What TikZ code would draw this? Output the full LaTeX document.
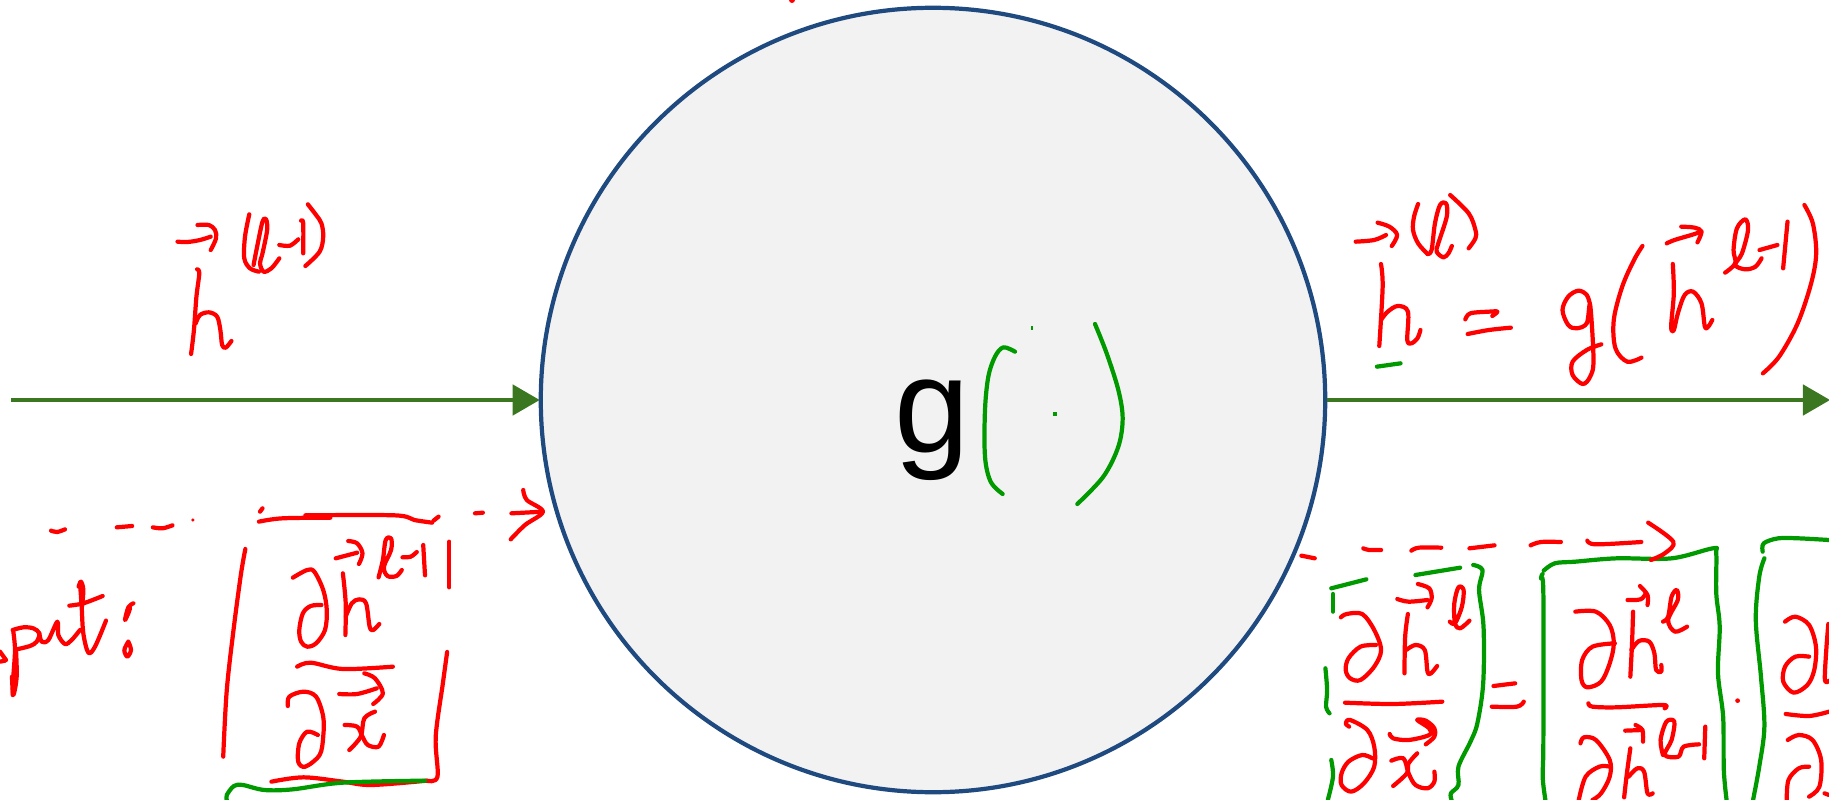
\documentclass[tikz,border=0pt]{standalone}
\usepackage{fontspec}
\setmainfont{Liberation Sans}
\usetikzlibrary{arrows.meta}
\definecolor{gatefill}{HTML}{F2F2F2}
\definecolor{gateline}{HTML}{1F4A7F}
\definecolor{flowgreen}{HTML}{3B7720}
\definecolor{inkgreen}{HTML}{009900}
\tikzset{
	inkline/.style={smooth,tension=0.55},
	redink/.style={red,line width=1.2pt,line cap=round,line join=round},
	greenink/.style={inkgreen,line width=1.2pt,line cap=round,line join=round},
	flowarrow/.style={flowgreen,line width=1.15pt,-{Triangle[length=7.7pt,width=8.6pt]},shorten >=-0.3pt}
}
\newcommand{\redstroke}[1]{\draw[redink] plot[inkline] coordinates {#1};}
\newcommand{\greenstroke}[1]{\draw[greenink] plot[inkline] coordinates {#1};}
\begin{document}
\begin{tikzpicture}[x=0.01cm,y=-0.01cm]
	\useasboundingbox[clip] (0,0) rectangle (1829,800);

	\node[circle,draw=gateline,fill=gatefill,line width=1.2pt,inner sep=0pt,minimum size=7.84cm] (gate) at (933,400) {};
	\node[anchor=base,inner sep=0pt,font=\fontsize{38.5}{40}\selectfont] (glabel) at (932,452) {g};

	\coordinate (inStart) at (11,400);
	\coordinate (outEnd) at (1829,400);
	\draw[flowarrow] (inStart) -- (gate);
	\draw[flowarrow] (gate) -- (outEnd);

	\fill[red] (792,0) circle (3);

	% Input label and the backward dashes (left)
	\begin{scope}[shift={(0,180)},xscale=0.35714,yscale=0.33333]
		\redstroke{(497,185)(525,186)(560,180)(590,170)}
		\redstroke{(553,135)(585,135)(602,150)(605,175)(590,210)}
		\redstroke{(552,268)(558,280)(550,350)(543,450)(535,522)}
		\redstroke{(548,430)(560,405)(585,397)(608,410)(617,450)(622,495)(632,503)(648,483)}
		\redstroke{(698,103)(686,170)(684,235)(700,265)(725,275)}
		\redstroke{(710,255)(720,200)(735,125)(745,118)(748,150)(735,220)(728,250)(738,275)(760,265)(782,235)}
		\redstroke{(782,195)(812,197)(835,178)}
		\redstroke{(843,122)(849,130)(849,220)}
		\redstroke{(862,73)(885,105)(900,130)(905,170)(895,215)(855,258)}
	\end{scope}

	% put:
	\begin{scope}[shift={(0,570)},scale=0.33333]
		\redstroke{(0,275)(15,272)}
		\redstroke{(0,245)(18,270)}
		\redstroke{(38,180)(70,172)(100,175)(118,190)(110,215)(90,228)(50,238)}
		\redstroke{(40,185)(45,240)(40,320)(38,375)}
		\redstroke{(36,320)(40,375)(50,320)(48,240)}
		\redstroke{(118,190)(125,215)(145,210)(172,155)(175,195)(195,222)(215,210)(240,180)}
		\redstroke{(240,38)(245,110)(250,190)(265,248)(285,230)(318,152)}
		\redstroke{(236,50)(243,35)(250,60)(246,110)}
		\redstroke{(208,107)(250,100)(308,78)}
		\redstroke{(400,100)(385,112)(375,150)(385,130)(390,115)}
		\redstroke{(385,215)(373,240)(382,260)(393,240)(385,215)}
	\end{scope}

	\begin{scope}[shift={(0,470)},xscale=0.35714,yscale=0.33333]
		\redstroke{(143,182)(160,186)(182,178)}
		\redstroke{(327,172)(370,168)}
		\redstroke{(428,172)(455,175)(483,166)}
		\fill[red] (540,150) circle (5);
		\redstroke{(735,115)(728,125)}
		\redstroke{(725,155)(790,145)(925,143)}
		\redstroke{(855,136)(1105,136)(1160,150)(1210,158)}
		\redstroke{(1228,140)(1214,152)}
		\redstroke{(1330,130)(1352,128)}
		\redstroke{(1432,130)(1520,125)}
		\redstroke{(1465,60)(1475,90)(1520,125)(1470,165)(1430,208)}
		% bracket
		\redstroke{(687,237)(675,310)(655,470)(635,660)(625,860)}
		\redstroke{(1258,215)(1258,352)}
		\redstroke{(1252,546)(1240,640)(1220,800)(1225,920)(1195,932)}
		\redstroke{(760,935)(850,922)(960,935)(1040,945)(1195,932)}
		% fraction
		\redstroke{(820,323)(860,300)(880,305)(905,360)(915,420)(910,480)(885,520)(860,530)(843,515)(838,480)(848,430)(870,408)(900,405)}
		\redstroke{(960,310)(968,400)(967,495)}
		\redstroke{(968,440)(985,400)(1005,388)(1025,400)(1035,470)(1045,480)(1062,462)}
		\redstroke{(940,265)(1000,248)}
		\redstroke{(975,213)(1000,220)(1015,250)(1005,282)}
		\redstroke{(1060,322)(1072,270)(1080,210)(1095,205)(1095,240)(1075,290)(1085,318)(1110,318)(1125,300)}
		\redstroke{(1127,262)(1150,260)(1167,246)}
		\redstroke{(1185,225)(1190,316)}
		\redstroke{(832,590)(870,578)(960,597)(1100,590)}
		\redstroke{(806,708)(810,680)(850,665)(885,680)(905,740)(905,800)(895,855)(855,890)(835,875)(838,820)(860,785)(890,795)}
		\redstroke{(950,672)(1000,672)(1055,655)}
		\redstroke{(1020,610)(1050,625)(1072,670)(1045,702)}
		\redstroke{(965,765)(1000,770)(1015,800)(1030,825)(1060,830)(1075,795)}
		\redstroke{(1050,725)(1020,745)(1010,800)(978,840)}
		\greenstroke{(635,990)(635,975)(655,948)(680,945)(740,960)(820,958)(960,938)(1190,932)}
	\end{scope}

	% Green brackets inside the gate
	\begin{scope}[shift={(860,300)},scale=0.33333]
		\greenstroke{(465,155)(430,142)(405,170)(385,230)(375,330)(375,470)(392,545)(428,582)}
		\greenstroke{(705,72)(740,160)(775,270)(788,355)(775,440)(730,530)(652,612)}
		\fill[inkgreen] (513,78) rectangle (519,90);
		\fill[inkgreen] (579,336) rectangle (591,348);
	\end{scope}

	% Output equation (right)
	\begin{scope}[shift={(1300,180)},xscale=0.33738,yscale=0.33333]
		\redstroke{(165,185)(220,180)(255,165)}
		\redstroke{(230,128)(265,140)(288,165)(272,198)}
		\redstroke{(350,72)(338,110)(335,150)(350,190)(378,222)}
		\redstroke{(378,222)(390,210)(400,130)(415,75)(433,70)(435,110)(410,190)(405,215)(425,232)(440,220)(450,198)}
		\redstroke{(445,45)(500,100)(520,150)(520,175)(500,205)}
		\redstroke{(240,252)(245,320)(235,498)}
		\redstroke{(240,420)(260,395)(290,378)(320,395)(318,480)(330,490)(348,475)(357,450)}
		\greenstroke{(228,560)(298,550)}
		\redstroke{(490,418)(505,400)(560,395)(585,395)(570,408)}
		\redstroke{(497,462)(560,450)(625,443)}
		\redstroke{(860,375)(850,345)(825,332)(795,350)(778,390)(795,435)(820,445)(850,430)(860,375)(870,540)(860,590)(838,612)(808,585)(808,545)(850,510)(893,493)}
		\redstroke{(1015,198)(990,240)(955,320)(930,420)(935,505)(970,545)(1012,533)}
		\redstroke{(1105,252)(1108,340)(1100,440)(1108,450)(1120,400)(1140,345)(1165,335)(1190,370)(1200,440)(1210,440)(1222,420)}
		\redstroke{(1087,190)(1110,180)(1160,165)(1190,155)}
		\redstroke{(1130,140)(1170,143)(1190,155)(1178,187)}
		\redstroke{(1260,278)(1290,250)(1285,210)(1295,145)(1320,118)(1328,150)(1310,220)(1290,255)(1320,268)(1350,260)(1368,235)}
		\redstroke{(1362,210)(1415,195)}
		\redstroke{(1445,125)(1432,265)}
		\redstroke{(1495,75)(1520,130)(1530,220)(1515,310)(1475,430)(1420,530)(1372,580)}
	\end{scope}

	% Chain rule (bottom right)
	\begin{scope}[shift={(1290,510)},xscale=0.34376,yscale=0.33333]
		\redstroke{(33,137)(72,145)}
		\redstroke{(213,115)(230,120)(265,120)}
		\redstroke{(353,122)(375,113)(440,113)}
		\redstroke{(522,115)(595,106)}
		\redstroke{(700,106)(730,96)(788,96)}
		\redstroke{(865,92)(890,103)(1022,96)}
		\greenstroke{(120,235)(222,208)}
		\greenstroke{(125,252)(125,305)}
		\greenstroke{(103,475)(108,540)(105,590)(115,610)}
		\greenstroke{(120,750)(125,800)(110,870)}
		\greenstroke{(365,195)(495,173)}
		\greenstroke{(533,165)(560,180)(550,240)(563,350)(562,520)(545,640)(525,695)(490,770)(490,825)(468,850)(470,870)}
		\greenstroke{(738,182)(770,160)(830,155)(950,145)(1110,145)(1230,115)(1240,130)(1240,250)(1250,350)(1245,490)(1260,620)(1262,780)(1270,870)}
		\greenstroke{(735,192)(730,205)(737,250)(737,700)(735,800)(743,870)}
		\greenstroke{(1375,125)(1378,100)(1420,85)(1480,85)(1568,90)}
		\greenstroke{(1380,145)(1365,200)(1355,330)(1370,500)(1380,650)(1365,770)(1347,870)}
		\redstroke{(1042,38)(1115,95)(1090,130)(1050,150)}
		% first fraction
		\redstroke{(148,322)(165,312)(210,312)(245,360)(265,420)(245,470)(205,510)(175,505)(162,480)(170,445)(205,410)(250,405)}
		\redstroke{(312,267)(345,275)(400,270)}
		\redstroke{(372,222)(405,235)(412,265)(400,292)}
		\redstroke{(343,312)(335,380)(333,490)}
		\redstroke{(338,420)(365,405)(392,420)(400,485)(410,490)(428,468)}
		\redstroke{(465,335)(480,340)(500,290)(505,240)(490,232)(478,280)(480,340)(495,355)(522,332)}
		\redstroke{(160,578)(300,582)(443,575)}
		\redstroke{(172,650)(162,640)(175,630)(225,660)(245,710)(245,770)(215,820)(178,845)(150,825)(150,790)(170,755)(210,735)(240,745)}
		\redstroke{(290,672)(300,685)(345,690)(405,675)(405,655)(370,630)(395,632)(420,655)(420,680)(395,703)}
		\redstroke{(295,752)(330,745)(345,790)(365,825)(400,835)(420,815)(420,785)}
		\redstroke{(370,730)(345,760)(340,790)(300,828)}
		\redstroke{(592,528)(655,520)}
		\redstroke{(587,590)(660,590)(680,575)}
		% second fraction
		\redstroke{(830,305)(890,305)(930,345)(942,400)(930,460)(905,515)(865,532)(848,510)(850,450)(880,410)(945,400)}
		\redstroke{(982,270)(1020,268)(1035,250)}
		\redstroke{(1018,228)(1040,255)(1040,285)}
		\redstroke{(998,305)(995,400)(990,500)}
		\redstroke{(993,420)(1015,393)(1045,395)(1060,430)(1065,480)(1080,485)(1080,465)}
		\redstroke{(1085,335)(1100,320)(1110,260)(1125,240)(1128,270)(1100,330)(1120,365)(1155,350)}
		\redstroke{(868,580)(880,590)(950,592)(1085,585)(1090,595)}
		\redstroke{(845,700)(855,682)(890,690)(930,750)(930,800)(905,850)(880,870)}
		\redstroke{(840,870)(860,800)(900,770)(930,770)}
		\redstroke{(975,662)(1025,660)}
		\redstroke{(1005,645)(1025,660)(1027,695)}
		\redstroke{(990,715)(980,790)(972,862)}
		\redstroke{(985,800)(1010,775)(1030,785)(1040,850)(1055,850)}
		\redstroke{(1085,735)(1078,690)(1095,635)(1118,635)(1110,690)(1090,735)(1130,740)(1145,710)(1190,703)}
		\redstroke{(1208,650)(1205,745)}
		\fill[red] (1302,572) circle (7);
		% third fraction, cut by the edge
		\redstroke{(1440,335)(1470,320)(1510,345)(1530,410)(1525,480)(1505,525)(1465,548)(1435,515)(1440,470)(1470,440)(1510,440)}
		\redstroke{(1566,342)(1560,420)(1556,510)(1568,512)}
		\redstroke{(1442,612)(1510,618)(1568,605)}
		\redstroke{(1448,690)(1480,675)(1520,690)(1545,750)(1540,830)(1510,860)}
		\redstroke{(1445,870)(1450,810)(1480,775)(1510,770)}
		\redstroke{(1555,850)(1568,855)}
	\end{scope}
\end{tikzpicture}
\end{document}
